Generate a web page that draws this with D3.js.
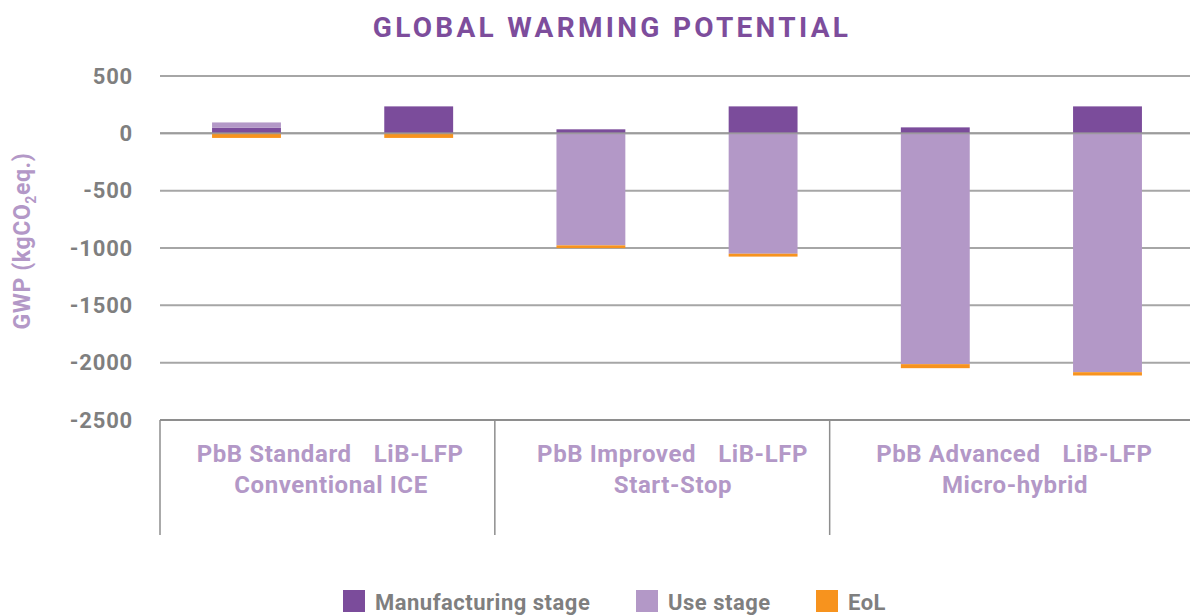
<!DOCTYPE html>
<html>
<head>
<meta charset="utf-8">
<script src="https://cdn.jsdelivr.net/npm/d3@7"></script>
<style>
  body { margin: 0; background: #fff; }
  svg { display: block; font-family: Roboto, "Noto Sans", sans-serif; font-weight: bold; }
</style>
</head>
<body>
<div class="outer-container"></div>
<script>
// bar labels (first level) and group labels (second level)
const categories = ['PbB Standard', 'LiB-LFP', 'PbB Improved', 'LiB-LFP', 'PbB Advanced', 'LiB-LFP']
const groups = ['Conventional ICE', 'Start-Stop', 'Micro-hybrid']

// GWP in kgCO2 eq.
const manufacturing = [50, 235, 35, 235, 52, 235]
const useStage = [45, 0, -977, -1050, -2013, -2083]
const eol = [-40, -40, -24, -25, -35, -29]

const seriesNames = ['Manufacturing stage', 'Use stage', 'EoL']
const yTicks = [500, 0, -500, -1000, -1500, -2000, -2500]

const w = 1190
const h = 615
const colors = ['#7B4C9B', '#B398C7', '#F7931E']

const rows = categories.map((c, i) => ({
  i: i,
  m: manufacturing[i],
  u: useStage[i],
  e: eol[i]
}))

const stack = d3.stack()
                .keys(['m', 'u', 'e'])
                .offset(d3.stackOffsetDiverging)
const stacked = stack(rows)

const xScale = d3.scaleBand()
                 .domain(d3.range(categories.length))
                 .range([160.4, 1193.6])
                 .paddingInner(0.6)
                 .paddingOuter(0.3)

const yScale = d3.scaleLinear()
                 .domain([-2500, 500])
                 .range([420, 76])

// group labels and group dividers
const groupScale = d3.scaleBand()
                     .domain(groups)
                     .range([160, 1186])
const divScale = d3.scaleLinear()
                   .domain([0, groups.length])
                   .range([160, 1164.5])

const svg = d3.select('.outer-container')
              .append('svg')
              .attr('width', w)
              .attr('height', h)

svg.append('text')
   .attr('x', 612)
   .attr('y', 37)
   .attr('text-anchor', 'middle')
   .attr('fill', '#7D4D9C')
   .attr('font-size', 28)
   .attr('letter-spacing', 3.3)
   .text('GLOBAL WARMING POTENTIAL')

// grid lines
svg.append('g')
   .selectAll('line')
   .data(yTicks)
   .enter()
   .append('line')
   .attr('x1', 160)
   .attr('x2', w)
   .attr('y1', d => yScale(d))
   .attr('y2', d => yScale(d))
   .attr('stroke', d => d === -2500 ? '#8E8E8E' : '#A6A6A6')
   .attr('stroke-width', 2)

const yAxis = d3.axisLeft(yScale)
                .tickValues(yTicks)
                .tickFormat(d => String(d))
                .tickSize(0)
                .tickPadding(27)

const yg = svg.append('g')
              .attr('transform', 'translate(160, 0)')
              .call(yAxis)
yg.select('.domain').remove()
yg.selectAll('text')
  .attr('font-family', 'Roboto, sans-serif')
  .attr('font-weight', 'bold')
  .attr('font-size', 22)
  .attr('letter-spacing', 0.8)
  .attr('fill', '#7F7F7F')

// bars
svg.append('g')
   .selectAll('g')
   .data(stacked)
   .enter()
   .append('g')
   .attr('fill', (d, i) => colors[i])
   .selectAll('rect')
   .data(d => d)
   .enter()
   .append('rect')
   .attr('x', d => xScale(d.data.i))
   .attr('width', xScale.bandwidth())
   .attr('y', d => yScale(Math.max(d[0], d[1])))
   .attr('height', d => Math.abs(yScale(d[0]) - yScale(d[1])))

// zero line drawn above the bars
svg.append('line')
   .attr('x1', 160)
   .attr('x2', w)
   .attr('y1', yScale(0))
   .attr('y2', yScale(0))
   .attr('stroke', '#9A9A9A')
   .attr('stroke-width', 2)
   .attr('opacity', 0.8)

// category dividers
svg.append('g')
   .selectAll('line')
   .data(d3.range(groups.length))
   .enter()
   .append('line')
   .attr('x1', d => divScale(d))
   .attr('x2', d => divScale(d))
   .attr('y1', yScale(-2500))
   .attr('y2', 535)
   .attr('stroke', '#8E8E8E')
   .attr('stroke-width', 1.5)

// first level labels: LiB-LFP sits on its bar, PbB label runs up to it
const labelG = svg.append('g')
                  .attr('fill', '#B398C7')
                  .attr('font-size', 24)
                  .attr('letter-spacing', 0.6)

for (let i = 1; i < categories.length; i += 2) {
  const cx = xScale(i) + xScale.bandwidth() / 2
  const right = labelG.append('text')
                      .attr('x', cx)
                      .attr('y', 462)
                      .attr('text-anchor', 'middle')
                      .text(categories[i])
  const len = right.node().getComputedTextLength()
  labelG.append('text')
        .attr('x', cx - len / 2 - 22)
        .attr('y', 462)
        .attr('text-anchor', 'end')
        .text(categories[i - 1])
}

labelG.selectAll('.group')
      .data(groups)
      .enter()
      .append('text')
      .attr('class', 'group')
      .attr('x', d => groupScale(d) + groupScale.bandwidth() / 2)
      .attr('y', 493)
      .attr('text-anchor', 'middle')
      .text(d => d)

// y axis title
const yTitle = svg.append('text')
                  .attr('transform', 'translate(30, 241) rotate(-90)')
                  .attr('text-anchor', 'middle')
                  .attr('fill', '#B398C7')
                  .attr('font-size', 23)
                  .attr('letter-spacing', 0.6)
yTitle.append('tspan').text('GWP (kgCO')
yTitle.append('tspan').attr('font-size', 14).attr('dy', 6).text('2')
yTitle.append('tspan').attr('dy', -6).text('eq.)')

// legend
const legendX = [343, 636, 816]
const legend = svg.append('g')
                  .selectAll('g')
                  .data(seriesNames)
                  .enter()
                  .append('g')
                  .attr('transform', (d, i) => 'translate(' + legendX[i] + ', 590)')
legend.append('rect')
      .attr('width', 22)
      .attr('height', 22)
      .attr('fill', (d, i) => colors[i])
legend.append('text')
      .attr('x', 32)
      .attr('y', 20)
      .attr('font-size', 22)
      .attr('letter-spacing', 0.5)
      .attr('fill', '#7F7F7F')
      .text(d => d)
</script>
</body>
</html>
